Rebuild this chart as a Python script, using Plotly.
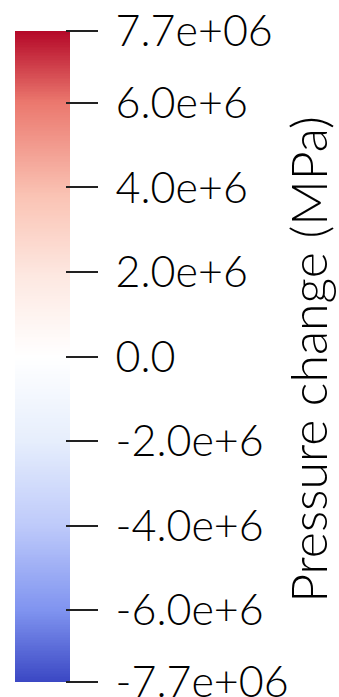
import numpy as np
import plotly.graph_objects as go

# Colour range of the pressure-change field
vmin = -7.7e6
vmax = 7.7e6

# Tick positions and their labels
tick_values = [-7.7e6, -6.0e6, -4.0e6, -2.0e6, 0.0, 2.0e6, 4.0e6, 6.0e6, 7.7e6]
tick_labels = ["-7.7e+06", "-6.0e+6", "-4.0e+6", "-2.0e+6", "0.0",
               "2.0e+6", "4.0e+6", "6.0e+6", "7.7e+06"]

# Diverging blue-white-red colour map (fraction of range, colour)
cmap_pos = [0.0, 0.110, 0.240, 0.370, 0.5, 0.623, 0.747, 0.890, 1.0]
cmap_col = ["rgb(59,72,196)", "rgb(128,148,240)", "rgb(190,202,250)",
            "rgb(230,238,252)", "rgb(255,255,255)", "rgb(253,232,225)",
            "rgb(250,195,180)", "rgb(235,120,110)", "rgb(180,8,40)"]

title_text = "Pressure change (MPa)"

# Gradient strip spanning the colour range
levels = np.linspace(vmin, vmax, 400)
z = [[v] for v in levels]

W, H = 339, 697
TOP, BOTTOM = 31, 682
FONT = "Lato"

fig = go.Figure(
    go.Heatmap(
        z=z,
        x=[0],
        y=levels,
        zmin=vmin,
        zmax=vmax,
        colorscale=[[p, c] for p, c in zip(cmap_pos, cmap_col)],
        showscale=False,
        hoverinfo="skip",
    )
)

fig.update_layout(
    width=W,
    height=H,
    margin=dict(l=0, r=0, t=TOP, b=H - BOTTOM, autoexpand=False),
    paper_bgcolor="white",
    plot_bgcolor="white",
    font=dict(family=FONT, color="black"),
    xaxis=dict(
        domain=[15 / W, 70 / W],
        visible=False,
        range=[-0.5, 0.5],
    ),
    yaxis=dict(
        domain=[0, 1],
        range=[vmin * 1.0005, vmax * 1.0005],
        side="right",
        anchor="free",
        position=65 / W,
        automargin=False,
        tickmode="array",
        tickvals=tick_values,
        ticktext=tick_labels,
        ticks="outside",
        ticklen=32,
        tickwidth=1.5,
        tickcolor="#222",
        ticklabelstandoff=9,
        ticklabeloverflow="allow",
        tickfont=dict(family=FONT, size=43, color="black", weight=300),
        showgrid=False,
        zeroline=False,
        showline=False,
    ),
    annotations=[
        dict(
            text=title_text,
            x=308 / W,
            y=0.495,
            xref="paper",
            yref="paper",
            showarrow=False,
            textangle=-90,
            font=dict(family=FONT, size=50, color="black", weight=300),
            xanchor="center",
            yanchor="middle",
        )
    ],
)

fig.write_html("out.html")
